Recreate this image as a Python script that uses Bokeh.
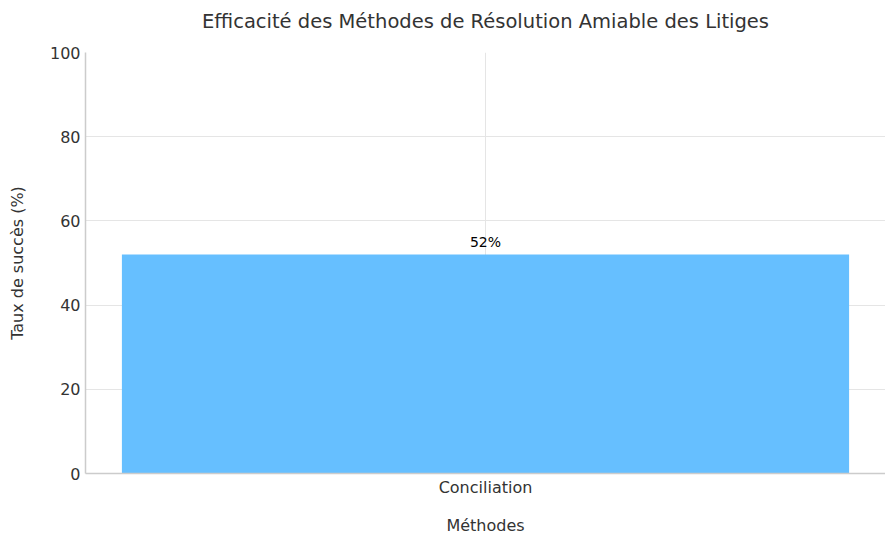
from bokeh.plotting import figure
from bokeh.models import ColumnDataSource, FixedTicker, Range1d, Title, Spacer
from bokeh.layouts import row
from bokeh.embed import file_html
from bokeh.resources import INLINE
from bokeh.core.properties import value

methods = ["Conciliation"]
success = [52]
labels = ["52%"]
yticks = [0, 20, 40, 60, 80, 100]
chart_title = "Efficacité des Méthodes de Résolution Amiable des Litiges"

src = ColumnDataSource(dict(m=methods, v=success, t=labels))

FONT = "DejaVu Sans"
p = figure(x_range=methods, y_range=Range1d(0, 100), width=881, height=537,
           output_backend="svg", toolbar_location=None, title=None,
           min_border_left=0, min_border_right=0, min_border_top=0, min_border_bottom=0)

p.vbar(x="m", top="v", width=0.909, source=src, color="#66bfff", line_color=None)
p.text(x="m", y="v", text="t", source=src, text_align="center", text_baseline="bottom",
       y_offset=-5, text_font=value(FONT), text_font_size="14px", text_color="#000000")

# gap between title and plot frame
p.add_layout(Title(text=" ", text_font_size="1px", standoff=9), "above")
p.add_layout(Title(text=chart_title, align="center", text_font=FONT,
                   text_font_size="19.5px", text_font_style="normal",
                   text_color="#333333", standoff=15), "above")

p.outline_line_color = None
p.yaxis.ticker = FixedTicker(ticks=yticks)
for ax in (p.xaxis, p.yaxis):
    ax.axis_line_color = "#cccccc"
    ax.axis_line_width = 1.5
    ax.major_tick_line_color = None
    ax.minor_tick_line_color = None
    ax.major_label_text_font = FONT
    ax.major_label_text_font_size = "16px"
    ax.major_label_text_color = "#333333"
    ax.axis_label_text_font = FONT
    ax.axis_label_text_font_size = "16px"
    ax.axis_label_text_font_style = "normal"
    ax.axis_label_text_color = "#333333"
p.xaxis.axis_label = "Méthodes"
p.yaxis.axis_label = "Taux de succès (%)"
p.xaxis.major_label_standoff = -2
p.yaxis.major_label_standoff = -1
p.xaxis.axis_label_standoff = 16
p.yaxis.axis_label_standoff = 20
p.xgrid.grid_line_color = "#e5e5e5"
p.ygrid.grid_line_color = "#e5e5e5"

layout = row(Spacer(width=4, height=537), p)
open("out.html", "w").write(file_html(layout, INLINE))
